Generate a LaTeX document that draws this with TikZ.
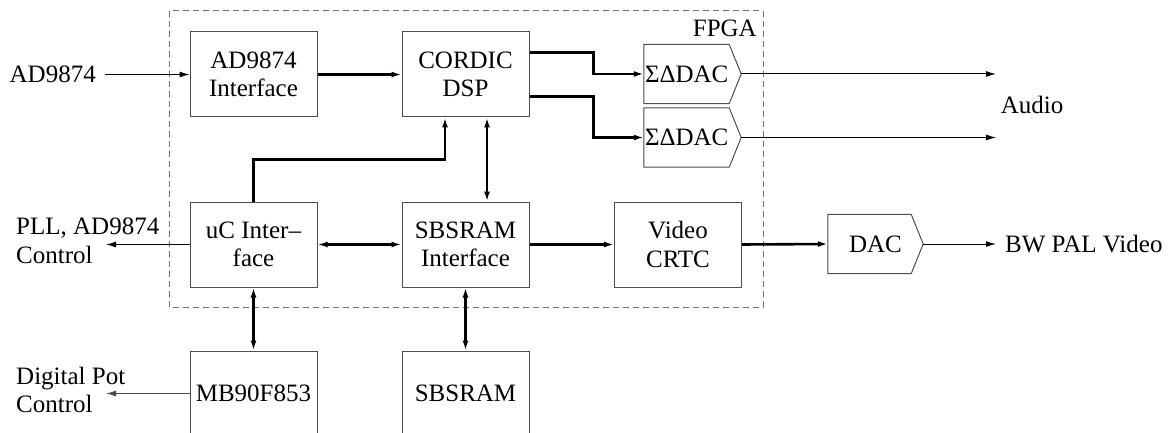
\documentclass[tikz,border=0pt]{standalone}
\usepackage{fontspec}
\setmainfont{Liberation Serif}
\usetikzlibrary{arrows.meta}
\definecolor{boxgray}{gray}{0.3}
\definecolor{dashgray}{gray}{0.45}
\tikzset{
  block/.style={draw=boxgray, line width=1pt, minimum width=127pt, minimum height=85pt, inner sep=0pt, align=center},
  dacbox/.style={inner xsep=1pt, inner ysep=0pt, minimum height=59pt, text width=95pt, align=left},
  sidetext/.style={inner sep=0pt, align=left},
  thinline/.style={line width=1pt, -{Latex[length=10pt,width=6pt]}},
  thickline/.style={line width=2.6pt, -{Latex[length=10pt,width=6pt]}},
  bothline/.style={line width=2.6pt, {Latex[length=10pt,width=6pt]}-{Latex[length=10pt,width=6pt]}},
}
\begin{document}
\begin{tikzpicture}[x=1pt, y=-1pt, font=\fontsize{25}{28.6}\selectfont]
    \useasboundingbox (0,0) rectangle (1175,433);

    % FPGA frame
    \draw[dashgray, line width=1pt, dash pattern=on 6pt off 4pt] (169,11) rectangle (763,307);
    \node[sidetext, anchor=base east] (fpga) at (757,37) {FPGA};

    % Blocks
    \node[block] (adif) at (253.5,74.5) {AD9874\\Interface};
    \node[block] (cordic) at (465.5,74.5) {CORDIC\\DSP};
    \node[block] (uc) at (253.5,244.5) {uC Inter–\\face};
    \node[block] (sbif) at (465.5,244.5) {SBSRAM\\Interface};
    \node[block] (crtc) at (678,244.5) {Video\\CRTC};
    \node[block] (mb) at (253.5,393.5) {MB90F853};
    \node[block] (sram) at (465.5,393.5) {SBSRAM};

    % DACs
    \node[dacbox] (sd1) at (692.5,74) {ΣΔDAC};
    \node[dacbox] (sd2) at (692.5,137.5) {ΣΔDAC};
    \node[dacbox, text width=93pt, align=center] (dac) at (875.5,244) {DAC};
    \foreach \d in {sd1,sd2,dac}
        \draw[boxgray, line width=1pt] (\d.north west) -- ([xshift=-12pt]\d.north east) -- (\d.east)
            -- ([xshift=-12pt]\d.south east) -- (\d.south west) -- cycle;

    % Outside labels
    \node[sidetext, inner xsep=9pt, anchor=east] (ad) at (105,74.5) {AD9874};
    \node[sidetext, anchor=west] (pll) at (16,241) {PLL, AD9874\\Control};
    \node[sidetext, anchor=west] (pot) at (16,390) {Digital Pot\\Control};
    \node[sidetext] (audio) at (1032,105) {Audio};
    \node[sidetext, anchor=west] (bw) at (1005,244) {BW PAL Video};

    \coordinate (pllend) at (106,244.5);
    \coordinate (potend) at (106,393.5);
    \coordinate (aud1end) at (996,74);
    \coordinate (aud2end) at (996,137.5);
    \coordinate (vidend) at (996,244);

    % Connections
    \draw[thinline] (ad.east) -- (adif.west);
    \draw[thickline] (adif.east) -- (cordic.west);
    \draw[thickline] ([yshift=-21pt]cordic.north east) -- ++(64,0) |- (sd1.west);
    \draw[thickline] ([yshift=21pt]cordic.south east) -- ++(64,0) |- (sd2.west);
    \draw[thickline] (uc.north) -- ++(0,-42) -| ([xshift=-20.5pt]cordic.south);
    \draw[bothline] ([xshift=21.5pt]cordic.south) -- ([xshift=21.5pt]sbif.north);
    \draw[bothline] (uc.east) -- (sbif.west);
    \draw[thickline] (sbif.east) -- (crtc.west);
    \draw[thickline] (crtc.east) -- (dac.west);
    \draw[bothline] (uc.south) -- (mb.north);
    \draw[bothline] (sbif.south) -- (sram.north);
    \draw[thinline] (sd1.east) -- (aud1end);
    \draw[thinline] (sd2.east) -- (aud2end);
    \draw[thinline] (dac.east) -- (vidend);
    \draw[thinline] (uc.west) -- (pllend);
    \draw[thinline, boxgray] (mb.west) -- (potend);
\end{tikzpicture}
\end{document}
